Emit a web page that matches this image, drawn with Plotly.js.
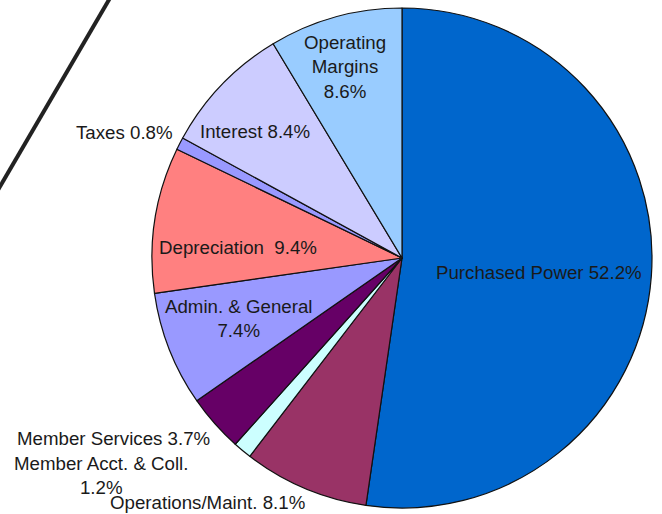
<!DOCTYPE html>
<html>
<head>
<meta charset="utf-8">
<script src="https://cdn.plot.ly/plotly-3.0.1.min.js"></script>
<style>html,body{margin:0;padding:0;background:#fff;}#chart{width:662px;height:514px;}</style>
</head>
<body>
<div id="chart"></div>
<script>
// Data
const categories = ["Purchased Power", "Operations/Maint.", "Member Acct. & Coll.", "Member Services",
  "Admin. & General", "Depreciation", "Taxes", "Interest", "Operating Margins"];
const values = [52.2, 8.1, 1.2, 3.7, 7.4, 9.4, 0.8, 8.4, 8.6];
const sliceLabels = ["Purchased Power 52.2%", "Operations/Maint. 8.1%", "Member Acct. & Coll.<br>1.2%",
  "Member Services 3.7%", "Admin. & General<br>7.4%", "Depreciation  9.4%", "Taxes 0.8%",
  "Interest 8.4%", "Operating<br>Margins<br>8.6%"];
const colors = ["#0066CC", "#993366", "#CCFFFF", "#660066", "#9999FF", "#FF8080", "#9999FF", "#CCCCFF", "#99CCFF"];

// Label placement (pixel centres in a 662x514 canvas)
const W = 662, H = 514;
const labelPos = [[539, 272], [207, 502], [101, 475], [113, 438], [239, 318], [238, 247], [124, 133], [255, 131], [345, 67]];

const annotations = sliceLabels.map((t, i) => ({
  text: t, xref: "paper", yref: "paper",
  x: labelPos[i][0] / W, y: 1 - labelPos[i][1] / H,
  xanchor: "center", yanchor: "middle", showarrow: false,
  font: {family: "Liberation Sans, Arial, sans-serif", size: 18.7, color: "#1a1a1a"}
}));

const trace = {
  type: "pie",
  labels: categories,
  values: values,
  sort: false,
  direction: "clockwise",
  rotation: 0,
  textinfo: "none",
  hoverinfo: "label+percent",
  marker: {colors: colors, line: {color: "#111", width: 1.2}},
  domain: {x: [(402 - 250) / W, (402 + 250) / W], y: [(H - 258 - 250) / H, (H - 258 + 250) / H]}
};

const layout = {
  width: W, height: H,
  margin: {l: 0, r: 0, t: 0, b: 0},
  paper_bgcolor: "#fff",
  showlegend: false,
  annotations: annotations,
  shapes: [{type: "line", xref: "paper", yref: "paper",
    x0: 110 / W, y0: 1 - (-2) / H, x1: -2 / W, y1: 1 - 190 / H,
    line: {color: "#222", width: 4}}]
};

Plotly.newPlot("chart", [trace], layout, {displayModeBar: false, staticPlot: true});
</script>
</body>
</html>
